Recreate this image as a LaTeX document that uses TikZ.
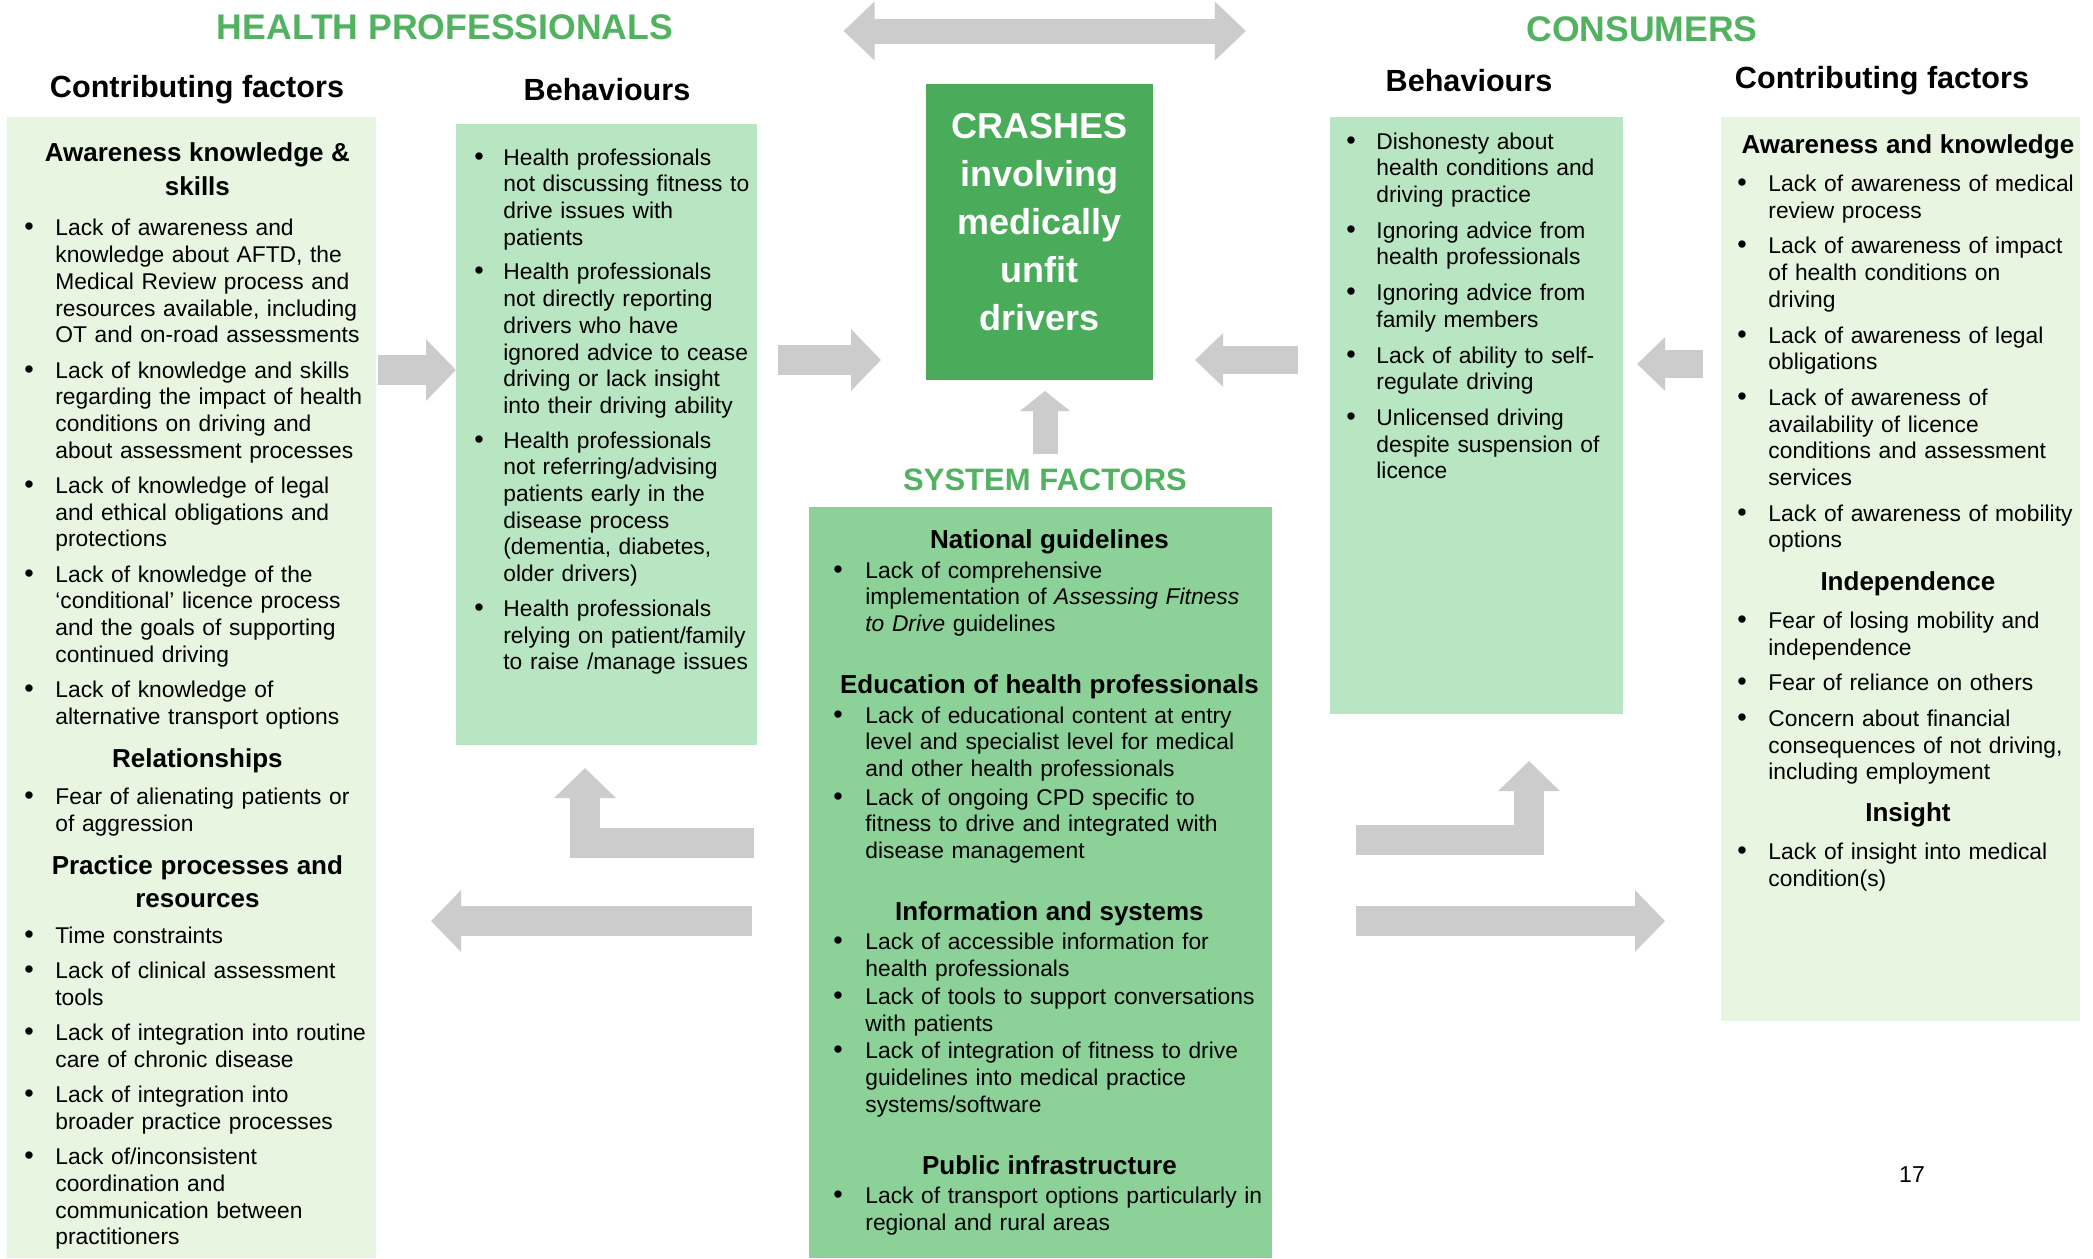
\documentclass[tikz,border=0pt]{standalone}
\usepackage{fontspec}
\setmainfont{Liberation Sans}
\usepackage{enumitem}
\usetikzlibrary{arrows.meta,positioning,fit}

\definecolor{titlegreen}{RGB}{82,178,96}
\definecolor{crashgreen}{RGB}{74,172,90}
\definecolor{sysgreen}{RGB}{140,210,152}
\definecolor{behgreen}{RGB}{184,229,194}
\definecolor{cfgreen}{RGB}{232,246,225}
\definecolor{arrowgrey}{RGB}{204,204,204}

\setlist[itemize]{label={\fontsize{13.5}{13.5}\selectfont\textbullet}, align=left, labelindent=0pt, labelwidth=8pt, labelsep=7.5pt, leftmargin=15.5pt, itemsep=4.5pt, topsep=0pt, partopsep=0pt, parsep=0pt}

\NewDocumentCommand{\boxhead}{O{4.7pt} O{5.5pt} m}{\par\vspace{#1}{\centering\bfseries\fontsize{13}{16.7}\selectfont #3\par}\vspace{#2}}

\begin{document}
\begin{tikzpicture}[x=0.5pt, y=-0.5pt,
    panel/.style={inner sep=0pt, outer sep=0pt},
    grouptitle/.style={inner sep=0pt, text=titlegreen, font=\fontsize{17.8}{20}\selectfont\bfseries},
    colhead/.style={inner sep=0pt, font=\fontsize{15.3}{18}\selectfont\bfseries},
    txt/.style={anchor=north west, inner sep=0pt, align=left, font=\fontsize{11.4}{13.35}\selectfont},
    blockarrow/.style={draw=arrowgrey, line width=15pt, -{Triangle[length=15pt, width=30pt]}}]
    \useasboundingbox (0,0) rectangle (2093,1258);
    \fill[white] (0,0) rectangle (2093,1258);

    % Group titles and column headings
    \node[grouptitle] (hptitle) at (445,27) {HEALTH PROFESSIONALS};
    \node[grouptitle] (contitle) at (1642,29) {CONSUMERS};
    \node[colhead] (hpcfhead) at (197,90) {Contributing factors};
    \node[colhead] (hpbehhead) at (607,90) {Behaviours};
    \node[colhead] (cbehhead) at (1469,81) {Behaviours};
    \node[colhead] (ccfhead) at (1882,81) {Contributing factors};

    % Boxes
    \node[panel, fill=cfgreen, fit={(7,117) (376,1258)}] (hpcf) {};
    \node[panel, fill=behgreen, fit={(456,124) (757,745)}] (hpbeh) {};
    \node[panel, fill=behgreen, fit={(1330,117) (1623,714)}] (cbeh) {};
    \node[panel, fill=cfgreen, fit={(1721,117) (2080,1021)}] (ccf) {};
    \node[panel, fill=sysgreen, fit={(809,507) (1272,1258)}] (sys) {};
    \node[grouptitle, font=\fontsize{15.5}{18}\selectfont\bfseries, above=8pt of sys, xshift=2.25pt] (systitle) {SYSTEM FACTORS};
    \node[panel, fill=crashgreen, text=white, minimum width=113.5pt, minimum height=148pt,
          align=center, text depth=10pt, font=\fontsize{18}{24}\selectfont\bfseries] (crash) at (1039.5,232)
          {CRASHES\\involving\\medically\\unfit\\drivers};

    % Health professionals: contributing factors
    \node[txt, text width=173pt] (hpcftext) at (24,128) {%
      \boxhead[0pt][7pt]{Awareness knowledge \&\\ skills}
      \begin{itemize}[itemsep=4.3pt]
        \item Lack of awareness and\\ knowledge about AFTD, the\\ Medical Review process and\\ resources available, including\\ OT and on-road assessments
        \item Lack of knowledge and skills\\ regarding the impact of health\\ conditions on driving and\\ about assessment processes
        \item Lack of knowledge of legal\\ and ethical obligations and\\ protections
        \item Lack of knowledge of the\\ ‘conditional’ licence process\\ and the goals of supporting\\ continued driving
        \item Lack of knowledge of\\ alternative transport options
      \end{itemize}
      \boxhead{Relationships}
      \begin{itemize}[itemsep=4.3pt]
        \item Fear of alienating patients or\\ of aggression
      \end{itemize}
      \boxhead[4.7pt][4.5pt]{Practice processes and\\ resources}
      \begin{itemize}[itemsep=4.3pt]
        \item Time constraints
        \item Lack of clinical assessment\\ tools
        \item Lack of integration into routine\\ care of chronic disease
        \item Lack of integration into\\ broader practice processes
        \item Lack of/inconsistent\\ coordination and\\ communication between\\ practitioners
      \end{itemize}};

    % Health professionals: behaviours
    \node[txt, text width=141.5pt] (hpbehtext) at (474,138) {%
      \begin{itemize}[leftmargin=14.5pt, labelsep=6.5pt, itemsep=4pt]
        \item Health professionals\\ not discussing fitness to\\ drive issues with\\ patients
        \item Health professionals\\ not directly reporting\\ drivers who have\\ ignored advice to cease\\ driving or lack insight\\ into their driving ability
        \item Health professionals\\ not referring/advising\\ patients early in the\\ disease process\\ (dementia, diabetes,\\ older drivers)
        \item Health professionals\\ relying on patient/family\\ to raise /manage issues
      \end{itemize}};

    % Consumers: behaviours
    \node[txt, text width=137pt] (cbehtext) at (1346,122) {%
      \begin{itemize}[leftmargin=15pt, labelsep=7pt]
        \item Dishonesty about\\ health conditions and\\ driving practice
        \item Ignoring advice from\\ health professionals
        \item Ignoring advice from\\ family members
        \item Lack of ability to self-\\ regulate driving
        \item Unlicensed driving\\ despite suspension of\\ licence
      \end{itemize}};

    % Consumers: contributing factors
    \node[txt, text width=170.5pt] (ccftext) at (1737,120) {%
      \boxhead[0pt]{Awareness and knowledge}
      \begin{itemize}
        \item Lack of awareness of medical\\ review process
        \item Lack of awareness of impact\\ of health conditions on\\ driving
        \item Lack of awareness of legal\\ obligations
        \item Lack of awareness of\\ availability of licence\\ conditions and assessment\\ services
        \item Lack of awareness of mobility\\ options
      \end{itemize}
      \boxhead{Independence}
      \begin{itemize}
        \item Fear of losing mobility and\\ independence
        \item Fear of reliance on others
        \item Concern about financial\\ consequences of not driving,\\ including employment
      \end{itemize}
      \boxhead[4.3pt]{Insight}
      \begin{itemize}
        \item Lack of insight into medical\\ condition(s)
      \end{itemize}};

    % System factors
    \node[txt, text width=216pt] (systext) at (833,515) {%
      \boxhead[0pt][1.35pt]{National guidelines}
      \begin{itemize}[leftmargin=16pt, labelsep=8pt, itemsep=1pt, rightmargin=-12pt]
        \item Lack of comprehensive\\ implementation of \textit{Assessing Fitness}\\ \textit{to Drive} guidelines
      \end{itemize}
      \boxhead[14.3pt][1.35pt]{Education of health professionals}
      \begin{itemize}[leftmargin=16pt, labelsep=8pt, itemsep=1pt, rightmargin=-12pt]
        \item Lack of educational content at entry\\ level and specialist level for medical\\ and other health professionals
        \item Lack of ongoing CPD specific to\\ fitness to drive and integrated with\\ disease management
      \end{itemize}
      \boxhead[14.3pt][1.35pt]{Information and systems}
      \begin{itemize}[leftmargin=16pt, labelsep=8pt, itemsep=0.5pt, rightmargin=-12pt]
        \item Lack of accessible information for\\ health professionals
        \item Lack of tools to support conversations\\ with patients
        \item Lack of integration of fitness to drive\\ guidelines into medical practice\\ systems/software
      \end{itemize}
      \boxhead[14.3pt][1.35pt]{Public infrastructure}
      \begin{itemize}[leftmargin=16pt, labelsep=8pt, itemsep=0.5pt, rightmargin=-12pt]
        \item Lack of transport options particularly in\\ regional and rural areas
      \end{itemize}};

    \node[inner sep=0pt, font=\fontsize{11.5}{13}\selectfont] (pagenum) at (1912,1175) {17};

    % Block arrows
    \draw[blockarrow, line width=12.5pt, {Triangle[length=15.5pt, width=28.5pt]}-{Triangle[length=15.5pt, width=28.5pt]},
          shorten <=85pt, shorten >=140pt] (hptitle.east |- 0,31) -- (contitle.west |- 0,31);
    \draw[blockarrow, shorten <=1pt] (hpcf.east |- 0,370) -- (hpbeh.west |- 0,370);
    \draw[blockarrow, shorten <=10.5pt, shorten >=22.5pt] (hpbeh.east |- 0,360) -- (crash.west |- 0,360);
    \draw[blockarrow, line width=14pt, -{Triangle[length=14pt, width=26pt]}, shorten <=16pt, shorten >=21pt]
          (cbeh.west |- 0,360) -- (crash.east |- 0,360);
    \draw[blockarrow, line width=14pt, -{Triangle[length=14pt, width=26pt]}, shorten <=9pt, shorten >=7pt]
          (ccf.west |- 0,364) -- (cbeh.east |- 0,364);
    \draw[blockarrow, line width=12.5pt, -{Triangle[length=10pt, width=24.5pt]}, shorten <=7pt, shorten >=5.5pt]
          (systitle.north) -- (systitle.north |- crash.south);
    \draw[blockarrow, shorten <=27.5pt, shorten >=11.5pt] (sys.west |- 0,843) -| (585,0 |- hpbeh.south);
    \draw[blockarrow, shorten <=42pt, shorten >=23.5pt] (sys.east |- 0,840) -| (1529,0 |- cbeh.south);
    \draw[blockarrow, shorten <=28.5pt, shorten >=27.5pt] (sys.west |- 0,921) -- (hpcf.east |- 0,921);
    \draw[blockarrow, shorten <=42pt, shorten >=28pt] (sys.east |- 0,921) -- (ccf.west |- 0,921);
\end{tikzpicture}
\end{document}
